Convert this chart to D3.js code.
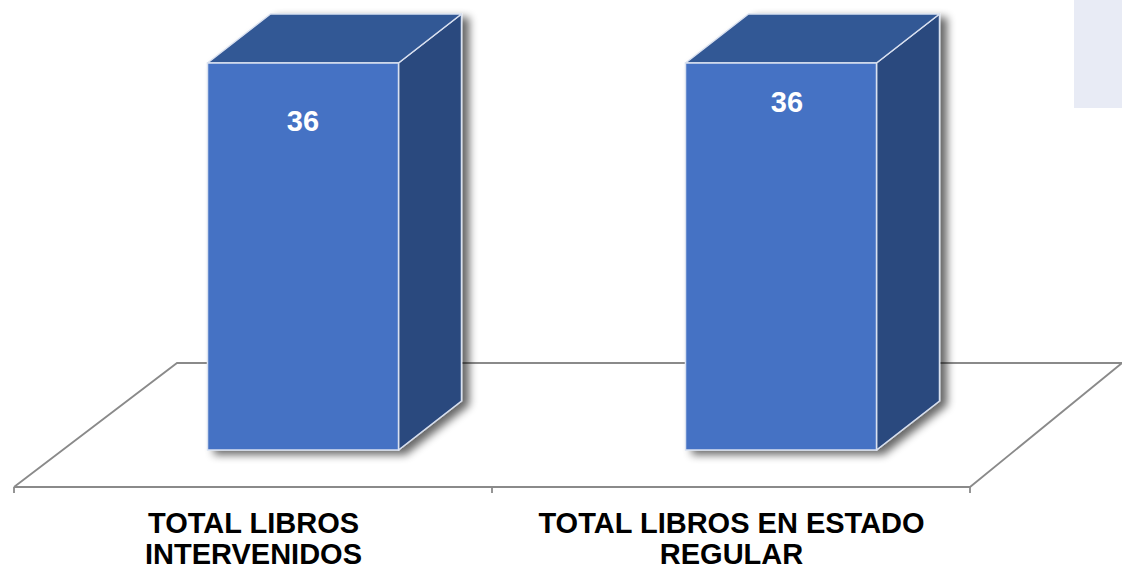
<!DOCTYPE html>
<html>
<head>
<meta charset="utf-8">
<script src="https://cdn.jsdelivr.net/npm/d3@7"></script>
<style>
  html, body { margin: 0; padding: 0; background: #ffffff; }
  svg { display: block; }
</style>
</head>
<body>
<svg id="chart" width="1122" height="567"></svg>
<script>
// Data
const categories = ["TOTAL LIBROS INTERVENIDOS", "TOTAL LIBROS EN ESTADO REGULAR"];
const labelLines = [["TOTAL LIBROS", "INTERVENIDOS"], ["TOTAL LIBROS EN ESTADO", "REGULAR"]];
const values = [36, 36];

const W = 1122, H = 567;
const svg = d3.select("#chart");

// Layout of the pseudo-3D frame
const floorFront = 487;             // front edge of the floor
const floorDY = -124;               // floor depth (vertical)
const floorDXLeft = 163, floorDXRight = 152;
const barDX = 63, barDY = -49;      // bar depth projection
const barBase = 450;                // front-bottom edge of each bar
const barWidth = 191;

const x = d3.scaleBand().domain(categories).range([14, 970]).paddingInner(0).paddingOuter(0);
const y = d3.scaleLinear().domain([0, 36]).range([barBase, 63]);

const defs = svg.append("defs");
const f = defs.append("filter").attr("id", "shadow")
  .attr("x", "-20%").attr("y", "-20%").attr("width", "150%").attr("height", "150%");
f.append("feGaussianBlur").attr("in", "SourceAlpha").attr("stdDeviation", 4).attr("result", "b");
f.append("feOffset").attr("in", "b").attr("dx", 7).attr("dy", 4).attr("result", "o");
f.append("feComponentTransfer").attr("in", "o").attr("result", "s")
  .append("feFuncA").attr("type", "linear").attr("slope", 0.6);
const m = f.append("feMerge");
m.append("feMergeNode").attr("in", "s");
m.append("feMergeNode").attr("in", "SourceGraphic");

// Legend panel at the top right
svg.append("rect").attr("x", 1074).attr("y", 0).attr("width", 48).attr("height", 108)
  .attr("fill", "#e8ebf5");

// Floor
const x0 = x.range()[0], x1 = x.range()[1];
const floor = svg.append("g").attr("fill", "none").attr("stroke", "#8a8a8a").attr("stroke-width", 1.8);
floor.append("path").attr("d", d3.line()([
  [x0, floorFront], [x0 + floorDXLeft, floorFront + floorDY], [W + 20, floorFront + floorDY]
]));
floor.append("path").attr("d", d3.line()([
  [x0, floorFront], [x1, floorFront], [x1 + floorDXRight, floorFront + floorDY]
]));

// Category ticks
const ticks = [x0].concat(categories.map(c => x(c) + x.bandwidth()));
floor.selectAll("line.tick").data(ticks).enter().append("line")
  .attr("x1", d => d).attr("x2", d => d)
  .attr("y1", floorFront).attr("y2", floorFront + 6);

// Bars
const bars = svg.selectAll("g.bar").data(categories.map((c, i) => ({ c, v: values[i], i })))
  .enter().append("g").attr("class", "bar");

bars.each(function (d) {
  const g = d3.select(this);
  const cx = x(d.c) + x.bandwidth() / 2 + 50;
  const L = cx - barWidth / 2, R = cx + barWidth / 2;
  const T = y(d.v), B = y(0);
  const edge = "#d9e1f0";
  const body = g.append("g").attr("filter", "url(#shadow)");
  // right side
  body.append("path")
    .attr("d", d3.line()([[R, T], [R + barDX, T + barDY], [R + barDX, B + barDY], [R, B]]) + "Z")
    .attr("fill", "#2b487e").attr("stroke", edge).attr("stroke-width", 1.5).attr("stroke-linejoin", "round");
  // top
  body.append("path")
    .attr("d", d3.line()([[L, T], [L + barDX, T + barDY], [R + barDX, T + barDY], [R, T]]) + "Z")
    .attr("fill", "#335895").attr("stroke", edge).attr("stroke-width", 1.5).attr("stroke-linejoin", "round");
  // front
  body.append("rect").attr("x", L).attr("y", T).attr("width", barWidth).attr("height", B - T)
    .attr("fill", "#4472c4").attr("stroke", edge).attr("stroke-width", 1.5);
});

// Value labels
const labelDX = [0, 6], labelDY = [68, 49];
bars.append("text")
  .attr("x", d => x(d.c) + x.bandwidth() / 2 + 50 + labelDX[d.i])
  .attr("y", d => y(d.v) + labelDY[d.i])
  .attr("text-anchor", "middle")
  .attr("font-family", "Liberation Sans, Arial, sans-serif")
  .attr("font-weight", "bold").attr("font-size", 29).attr("fill", "#ffffff")
  .text(d => d.v);

// Category labels
const cl = svg.selectAll("text.cat").data(categories).enter().append("text")
  .attr("class", "cat")
  .attr("text-anchor", "middle")
  .attr("font-family", "Liberation Sans, Arial, sans-serif")
  .attr("font-weight", "bold").attr("font-size", 29).attr("fill", "#000000");
cl.each(function (c, i) {
  const t = d3.select(this);
  labelLines[i].forEach((line, k) => {
    t.append("tspan").attr("x", x(c) + x.bandwidth() / 2 + 0.5)
      .attr("y", 533 + k * 31).text(line);
  });
});
</script>
</body>
</html>
